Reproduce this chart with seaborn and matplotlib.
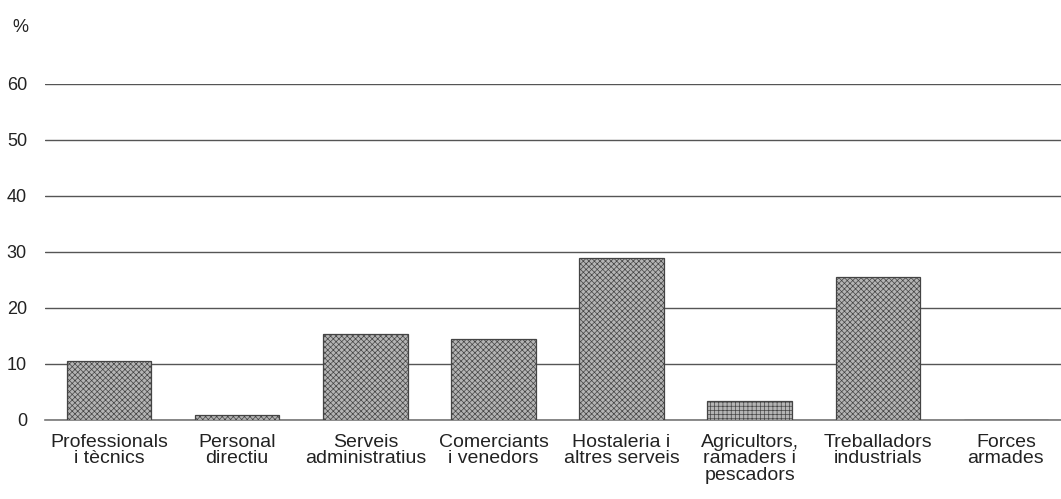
import matplotlib
matplotlib.use("Agg")
import matplotlib.pyplot as plt
import seaborn as sns
import pandas as pd

# -----------------------------
# Data
# -----------------------------

categories = [
    "Professionals\ni tècnics",
    "Personal\ndirectiu",
    "Serveis\nadministratius",
    "Comerciants\ni venedors",
    "Hostaleria i\naltres serveis",
    "Agricultors,\nramaders i\npescadors",
    "Treballadors\nindustrials",
    "Forces\narmades",
]
values = [10.5, 0.9, 15.4, 14.5, 28.9, 3.4, 25.5, 0.0]
yticks = [0, 10, 20, 30, 40, 50, 60]

df = pd.DataFrame({"cat": categories, "pct": values})

# -----------------------------
# Styling
# -----------------------------

sns.set_style("white")
plt.rcParams["font.family"] = ["Liberation Sans", "DejaVu Sans"]
plt.rcParams["hatch.linewidth"] = 0.5

fig = plt.figure(figsize=(10.61, 4.99), dpi=100)
ax = fig.add_axes([45 / 1061, 1 - 420 / 499, 1025 / 1061, 336 / 499])

sns.barplot(
    data=df,
    x="cat",
    y="pct",
    color="#b4b4b4",
    width=0.66,
    edgecolor="#444444",
    linewidth=0.9,
    ax=ax,
    zorder=3,
)

for i, patch in enumerate(ax.patches):
    patch.set_hatch("xxxxxx" if i != 5 else "++++")

ax.set_ylim(0, 60)
ax.set_yticks(yticks)
ax.yaxis.grid(True, color="#555555", linewidth=1.0, zorder=0)
ax.set_axisbelow(True)
for s in ["left", "right", "top"]:
    ax.spines[s].set_visible(False)
ax.spines["bottom"].set_color("#777777")
ax.spines["bottom"].set_linewidth(1.2)

ax.tick_params(axis="y", length=0, pad=13, labelsize=13, labelcolor="#222222")
ax.tick_params(axis="x", length=0, pad=10, labelsize=14, labelcolor="#222222")
for lbl in ax.get_xticklabels():
    lbl.set_linespacing(0.95)
ax.set_xlabel("")
ax.set_ylabel("")

fig.text(12 / 1061, 1 - 28 / 499, "%", fontsize=13, color="#222222",
         ha="left", va="center")

fig.savefig("out.png", dpi=100)
